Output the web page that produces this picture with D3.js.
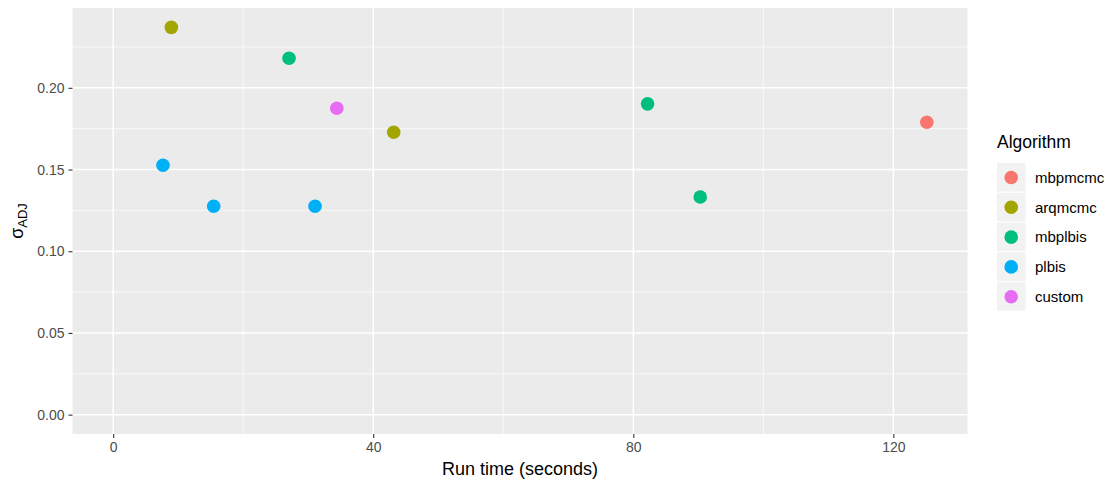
<!DOCTYPE html>
<html><head><meta charset="utf-8">
<script src="https://cdn.jsdelivr.net/npm/d3@7"></script>
<style>body{margin:0;background:#fff;} text{font-family:"Liberation Sans",Arial,sans-serif;}</style>
</head><body>
<svg id="chart" width="1114" height="485"></svg>
<script>
const algorithms = ["mbpmcmc","arqmcmc","mbplbis","plbis","custom"];
const colors = ["#F8766D","#A3A500","#00BF7D","#00B0F6","#E76BF3"];
const pointAlg = ["mbpmcmc","arqmcmc","arqmcmc","mbplbis","mbplbis","mbplbis","plbis","plbis","plbis","custom"];
const runTime  = [125.15, 8.95, 43.15, 27.05, 82.2, 90.3, 7.66, 15.46, 31.05, 34.4];
const sigmaAdj = [0.1789, 0.2370, 0.1728, 0.2181, 0.1902, 0.1332, 0.1526, 0.1275, 0.1275, 0.1875];
const xTicks = [0, 40, 80, 120];
const xMinor = [20, 60, 100];
const yTicks = [0.00, 0.05, 0.10, 0.15, 0.20];
const yMinor = [0.025, 0.075, 0.125, 0.175, 0.225];

const svg = d3.select("#chart");
const panel = {l:72.5, r:967.5, t:8, b:434};
const xmax = d3.max(runTime), ymax = d3.max(sigmaAdj);
const x = d3.scaleLinear().domain([-0.05*xmax, 1.05*xmax]).range([panel.l, panel.r]);
const y = d3.scaleLinear().domain([-0.05*ymax, 1.05*ymax]).range([panel.b, panel.t]);
const color = d3.scaleOrdinal().domain(algorithms).range(colors);

svg.append("rect").attr("x",panel.l).attr("y",panel.t).attr("width",panel.r-panel.l).attr("height",panel.b-panel.t).attr("fill","#EBEBEB");
const g = svg.append("g");
g.selectAll(".xmin").data(xMinor).join("line").attr("x1",d=>x(d)).attr("x2",d=>x(d)).attr("y1",panel.t).attr("y2",panel.b).attr("stroke","#fff").attr("stroke-width",0.7);
g.selectAll(".ymin").data(yMinor).join("line").attr("y1",d=>y(d)).attr("y2",d=>y(d)).attr("x1",panel.l).attr("x2",panel.r).attr("stroke","#fff").attr("stroke-width",0.7);
g.selectAll(".xmaj").data(xTicks).join("line").attr("x1",d=>x(d)).attr("x2",d=>x(d)).attr("y1",panel.t).attr("y2",panel.b).attr("stroke","#fff").attr("stroke-width",1.5);
g.selectAll(".ymaj").data(yTicks).join("line").attr("y1",d=>y(d)).attr("y2",d=>y(d)).attr("x1",panel.l).attr("x2",panel.r).attr("stroke","#fff").attr("stroke-width",1.5);

// axes
const xAxis = d3.axisBottom(x).tickValues(xTicks).tickSize(4).tickPadding(4).tickFormat(d3.format("d"));
const ax = svg.append("g").attr("transform",`translate(0,${panel.b})`).call(xAxis);
const yAxis = d3.axisLeft(y).tickValues(yTicks).tickSize(4).tickPadding(4).tickFormat(d3.format(".2f"));
const ay = svg.append("g").attr("transform",`translate(${panel.l},0)`).call(yAxis);
[ax,ay].forEach(a=>{
  a.select(".domain").remove();
  a.selectAll(".tick line").attr("stroke","#333").attr("stroke-width",1.1);
  a.selectAll(".tick text").attr("fill","#4D4D4D").style("font-size","14px").style("font-family","Liberation Sans, Arial, sans-serif");
});

// points
svg.append("g").selectAll("circle").data(runTime.map((t,i)=>({t, s:sigmaAdj[i], a:pointAlg[i]})))
  .join("circle").attr("cx",d=>x(d.t)).attr("cy",d=>y(d.s)).attr("r",6.8).attr("fill",d=>color(d.a));

// axis titles
svg.append("text").attr("x",(panel.l+panel.r)/2).attr("y",475).attr("text-anchor","middle").style("font-size","18px").attr("fill","#000").text("Run time (seconds)");
const yl = svg.append("text").attr("transform",`translate(23,${(panel.t+panel.b)/2}) rotate(-90)`).attr("text-anchor","middle").style("font-size","18px").attr("fill","#000");
yl.append("tspan").text("σ");
yl.append("tspan").attr("dy",4).style("font-size","13px").text("ADJ");

// legend
const lg = svg.append("g").attr("transform","translate(997,0)");
lg.append("text").attr("x",0).attr("y",148).style("font-size","17.5px").attr("fill","#000").text("Algorithm");
const rows = lg.selectAll(".row").data(algorithms).join("g").attr("transform",(d,i)=>`translate(0,${163+i*29.8})`);
rows.append("rect").attr("x",0).attr("y",0).attr("width",28.5).attr("height",28.5).attr("fill","#F2F2F2");
rows.append("circle").attr("cx",14.2).attr("cy",14.5).attr("r",6.8).attr("fill",d=>color(d));
rows.append("text").attr("x",38).attr("y",14.5).attr("dy","0.35em").style("font-size","15px").attr("fill","#000").text(d=>d);
</script>
</body></html>
